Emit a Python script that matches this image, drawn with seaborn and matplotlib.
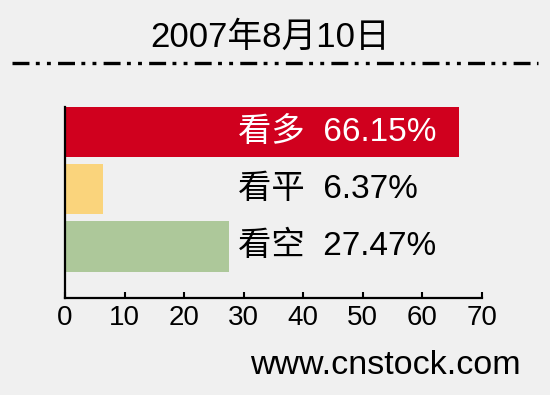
import matplotlib
matplotlib.use("Agg")
import matplotlib.pyplot as plt
import seaborn as sns
import pandas as pd
from matplotlib.lines import Line2D

categories = ['看多', '看平', '看空']
values = [66.15, 6.37, 27.47]
bar_colors = ['#D0001E', '#FAD47C', '#ADC89A']
label_colors = ['white', 'black', 'black']
xticks = [0, 10, 20, 30, 40, 50, 60, 70]
title = '2007年8月10日'
source = 'www.cnstock.com'

sns.set_theme(style='white')
plt.rcParams['font.family'] = ['Liberation Sans', 'Noto Sans CJK SC', 'DejaVu Sans']
plt.rcParams['lines.scale_dashes'] = False

bg = '#F0F0F0'
fig = plt.figure(figsize=(5.5, 3.95), dpi=100, facecolor=bg)
ax = fig.add_axes([65/550, 1-298/395, (482-65)/550, (298-107)/395])
ax.set_facecolor(bg)

df = pd.DataFrame({'cat': categories, 'val': values})
sns.barplot(data=df, x='val', y='cat', hue='cat', palette=bar_colors,
            order=categories, hue_order=categories, width=0.877,
            saturation=1, legend=False, ax=ax, edgecolor='none')

for i, (c, v) in enumerate(zip(categories, values)):
    ax.text(29.0, i, f'{c}  {v:.2f}%', ha='left', va='center',
            fontsize=24, color=label_colors[i])

ax.set_xlim(0, 70)
ax.set_ylim(2.9, -0.44)
ax.set_xticks(xticks)
ax.set_xticklabels([str(t) for t in xticks])
ax.tick_params(axis='x', direction='in', length=4, width=1.5, color='black',
               labelsize=20, labelcolor='black', pad=5, bottom=True)
ax.tick_params(axis='y', left=False, labelleft=False)
ax.set_xlabel('')
ax.set_ylabel('')
for s in ['top', 'right']:
    ax.spines[s].set_visible(False)
for s in ['left', 'bottom']:
    ax.spines[s].set_visible(True)
    ax.spines[s].set_color('black')
    ax.spines[s].set_linewidth(1.6)

fig.text(270/550, 1-37/395, title, ha='center', va='center', fontsize=25, color='black')
fig.text(521/550, 1-366/395, source, ha='right', va='center', fontsize=24.5, color='black')

line = Line2D([12/550, 538/550], [1-62.5/395]*2, transform=fig.transFigure,
              color='black', linewidth=2.4, dashes=(12.2, 4.6, 2.8, 5.2, 2.8, 5.2))
fig.add_artist(line)

fig.savefig('out.png', dpi=100, facecolor=bg)
